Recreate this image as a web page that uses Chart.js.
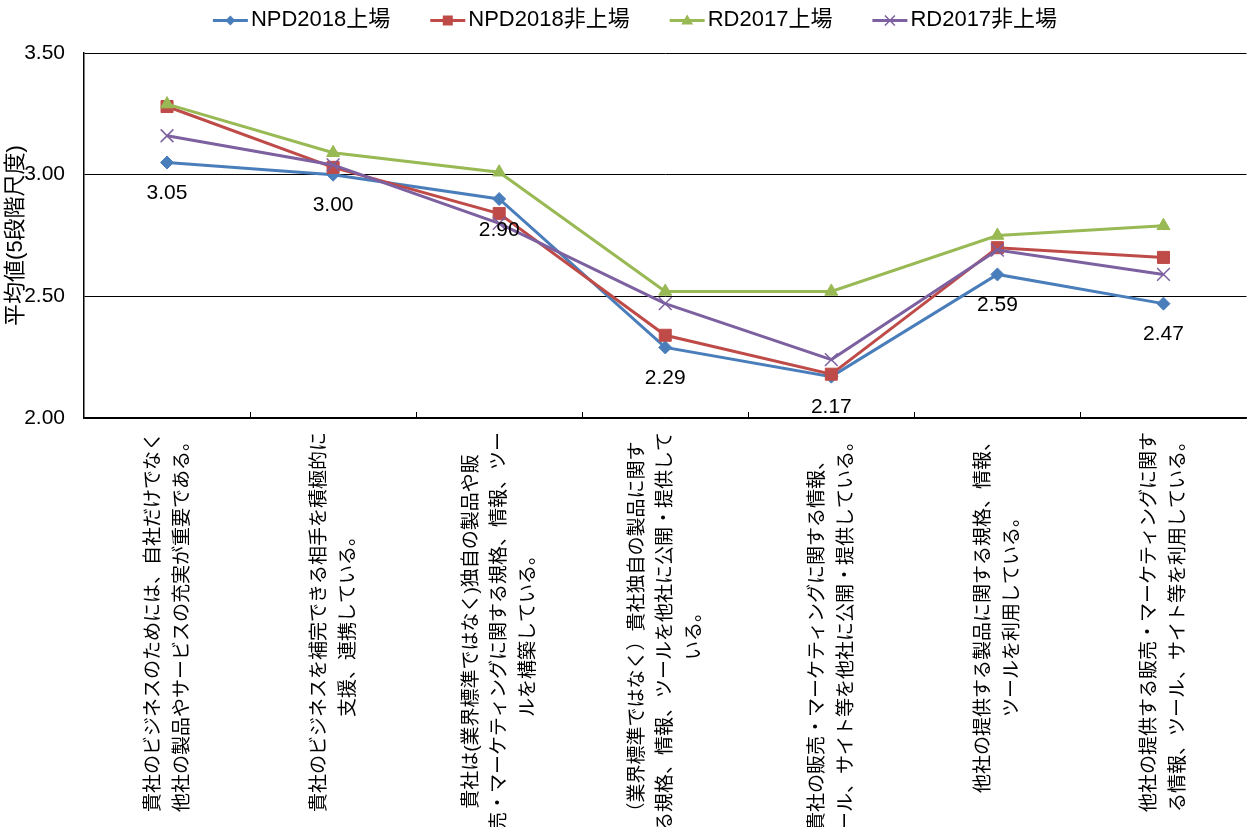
<!DOCTYPE html>
<html lang="ja">
<head>
<meta charset="utf-8">
<title>平均値(5段階尺度)</title>
<script src="https://cdn.jsdelivr.net/npm/chart.js@4.4.1/dist/chart.umd.min.js"></script>
<style>
  html, body { margin: 0; padding: 0; background: #fff; }
  #wrap { position: relative; width: 1257px; height: 827px; }
</style>
</head>
<body>
<div id="wrap"><canvas id="chart"></canvas></div>
<script>
// ---------- data ----------
const categories = [
  ['貴社のビジネスのためには、自社だけでなく', '他社の製品やサービスの充実が重要である。'],
  ['貴社のビジネスを補完できる相手を積極的に', '支援、連携している。'],
  ['貴社は(業界標準ではなく)独自の製品や販', '売・マーケティングに関する規格、情報、ツー', 'ルを構築している。'],
  ['（業界標準ではなく）貴社独自の製品に関す', 'る規格、情報、ツールを他社に公開・提供して', 'いる。'],
  ['貴社の販売・マーケティングに関する情報、', 'ツール、サイト等を他社に公開・提供している。'],
  ['他社の提供する製品に関する規格、情報、', 'ツールを利用している。'],
  ['他社の提供する販売・マーケティングに関す', 'る情報、ツール、サイト等を利用している。']
];

const npd2018Listed    = [3.05, 3.00, 2.90, 2.29, 2.17, 2.59, 2.47];
const npd2018Unlisted  = [3.28, 3.03, 2.84, 2.34, 2.18, 2.70, 2.66];
const rd2017Listed     = [3.29, 3.09, 3.01, 2.52, 2.52, 2.75, 2.79];
const rd2017Unlisted   = [3.16, 3.04, 2.80, 2.47, 2.24, 2.69, 2.59];

const seriesNames = ['NPD2018上場', 'NPD2018非上場', 'RD2017上場', 'RD2017非上場'];
const yTicks = [2.00, 2.50, 3.00, 3.50];
const yTitle = '平均値(5段階尺度)';

// ---------- styles ----------
const FONT = "'Liberation Sans', 'Noto Sans CJK JP', sans-serif";
const BLUE = '#4A7EBB', RED = '#BE4B48', GREEN = '#98B954', PURPLE = '#7D60A0';

Chart.defaults.font.family = FONT;
Chart.defaults.color = '#000';

function series(label, data, color, style, radius, order) {
  return {
    label: label,
    data: data,
    borderColor: color,
    backgroundColor: color,
    borderWidth: 3,
    tension: 0,
    pointStyle: style,
    pointRadius: radius,
    pointHoverRadius: radius,
    pointBackgroundColor: color,
    pointBorderColor: color,
    pointBorderWidth: style === 'crossRot' ? 1.5 : 1,
    order: order
  };
}

// marker for the legend (line + symbol)
function legendMarker(ctx, style, x, y, color) {
  ctx.save();
  ctx.fillStyle = color;
  ctx.strokeStyle = color;
  ctx.beginPath();
  if (style === 'rectRot') {
    const r = 5;
    ctx.moveTo(x, y - r); ctx.lineTo(x + r, y); ctx.lineTo(x, y + r); ctx.lineTo(x - r, y);
    ctx.closePath(); ctx.fill();
  } else if (style === 'rect') {
    ctx.rect(x - 5, y - 5, 10, 10); ctx.fill();
  } else if (style === 'triangle') {
    ctx.moveTo(x, y - 6); ctx.lineTo(x + 6, y + 4); ctx.lineTo(x - 6, y + 4);
    ctx.closePath(); ctx.fill();
  } else {
    ctx.lineWidth = 1.5;
    ctx.moveTo(x - 5, y - 5); ctx.lineTo(x + 5, y + 5);
    ctx.moveTo(x + 5, y - 5); ctx.lineTo(x - 5, y + 5);
    ctx.stroke();
  }
  ctx.restore();
}

const decor = {
  id: 'decor',
  afterDatasetsDraw(chart) {
    // value labels under the first series
    const ctx = chart.ctx;
    const meta = chart.getDatasetMeta(0);
    ctx.save();
    ctx.font = '21px ' + FONT;
    ctx.fillStyle = '#000';
    ctx.textAlign = 'center';
    ctx.textBaseline = 'middle';
    meta.data.forEach((pt, i) => {
      ctx.fillText(npd2018Listed[i].toFixed(2), pt.x, pt.y + 31);
    });
    ctx.restore();
  },
  afterDraw(chart) {
    const ctx = chart.ctx;
    const xs = chart.scales.x;
    const area = chart.chartArea;
    const half = (xs.getPixelForValue(1) - xs.getPixelForValue(0)) / 2;

    // small inside tick marks between categories
    ctx.save();
    ctx.strokeStyle = '#000';
    ctx.lineWidth = 1;
    for (let i = 1; i < categories.length; i++) {
      const x = Math.round(xs.getPixelForValue(i) - half) + 0.5;
      ctx.beginPath();
      ctx.moveTo(x, area.bottom - 6);
      ctx.lineTo(x, area.bottom);
      ctx.stroke();
    }
    ctx.restore();

    // category labels, rotated, lines centred
    ctx.save();
    ctx.font = '19px ' + FONT;
    ctx.fillStyle = '#000';
    ctx.textAlign = 'center';
    ctx.textBaseline = 'middle';
    const lh = 28.5;
    categories.forEach((lines, i) => {
      const maxW = Math.max(...lines.map(l => ctx.measureText(l).width));
      const cx = xs.getPixelForValue(i) + 1;
      const cy = area.bottom + 14 + maxW / 2;
      ctx.save();
      ctx.translate(cx, cy);
      ctx.rotate(-Math.PI / 2);
      lines.forEach((l, j) => {
        ctx.fillText(l, 0, (j - (lines.length - 1) / 2) * lh);
      });
      ctx.restore();
    });
    ctx.restore();

    // legend
    ctx.save();
    ctx.font = '22px ' + FONT;
    ctx.textBaseline = 'middle';
    ctx.textAlign = 'left';
    const lineLen = 35, gapText = 3, gapItem = 40;
    const items = chart.data.datasets.map(d => ({
      label: d.label, color: d.borderColor, style: d.pointStyle,
      w: lineLen + gapText + ctx.measureText(d.label).width
    }));
    const total = items.reduce((s, it) => s + it.w, 0) + gapItem * (items.length - 1);
    let x = 635 - total / 2;
    const y = 20;
    items.forEach(it => {
      ctx.strokeStyle = it.color;
      ctx.lineWidth = 3;
      ctx.beginPath();
      ctx.moveTo(x, y + 0.5);
      ctx.lineTo(x + lineLen, y + 0.5);
      ctx.stroke();
      legendMarker(ctx, it.style, x + lineLen / 2, y + 0.5, it.color);
      ctx.fillStyle = '#000';
      ctx.fillText(it.label, x + lineLen + gapText, y);
      x += it.w + gapItem;
    });
    ctx.restore();
  }
};

// ---------- chart ----------
const ctx = document.getElementById('chart').getContext('2d');

new Chart(ctx, {
  type: 'line',
  data: {
    labels: categories,
    datasets: [
      series(seriesNames[0], npd2018Listed, BLUE, 'rectRot', 6.5, 3),
      series(seriesNames[1], npd2018Unlisted, RED, 'rect', 8.5, 2),
      series(seriesNames[2], rd2017Listed, GREEN, 'triangle', 7.5, 1),
      series(seriesNames[3], rd2017Unlisted, PURPLE, 'crossRot', 9, 0)
    ]
  },
  options: {
    responsive: true,
    maintainAspectRatio: false,
    animation: false,
    layout: {
      padding: { top: 53, bottom: 409, left: 0, right: 0 }
    },
    plugins: {
      legend: { display: false },
      tooltip: { enabled: false }
    },
    scales: {
      x: {
        type: 'category',
        offset: true,
        grid: { display: false, drawTicks: false },
        border: { display: true, color: '#000', width: 1.5 },
        ticks: { display: false }
      },
      y: {
        min: 2,
        max: 3.5,
        afterFit(scale) { scale.width = 84; },
        afterBuildTicks(scale) { scale.ticks = yTicks.map(v => ({ value: v })); },
        ticks: {
          padding: 19,
          color: '#000',
          font: { size: 21 },
          callback: v => Number(v).toFixed(2)
        },
        grid: { color: '#000', lineWidth: 1, drawTicks: false },
        border: { display: true, color: '#000', width: 1.5 },
        title: {
          display: true,
          text: yTitle,
          color: '#000',
          font: { size: 22 },
          padding: { top: 3, bottom: 4 }
        }
      }
    }
  },
  plugins: [decor]
});
</script>
</body>
</html>
